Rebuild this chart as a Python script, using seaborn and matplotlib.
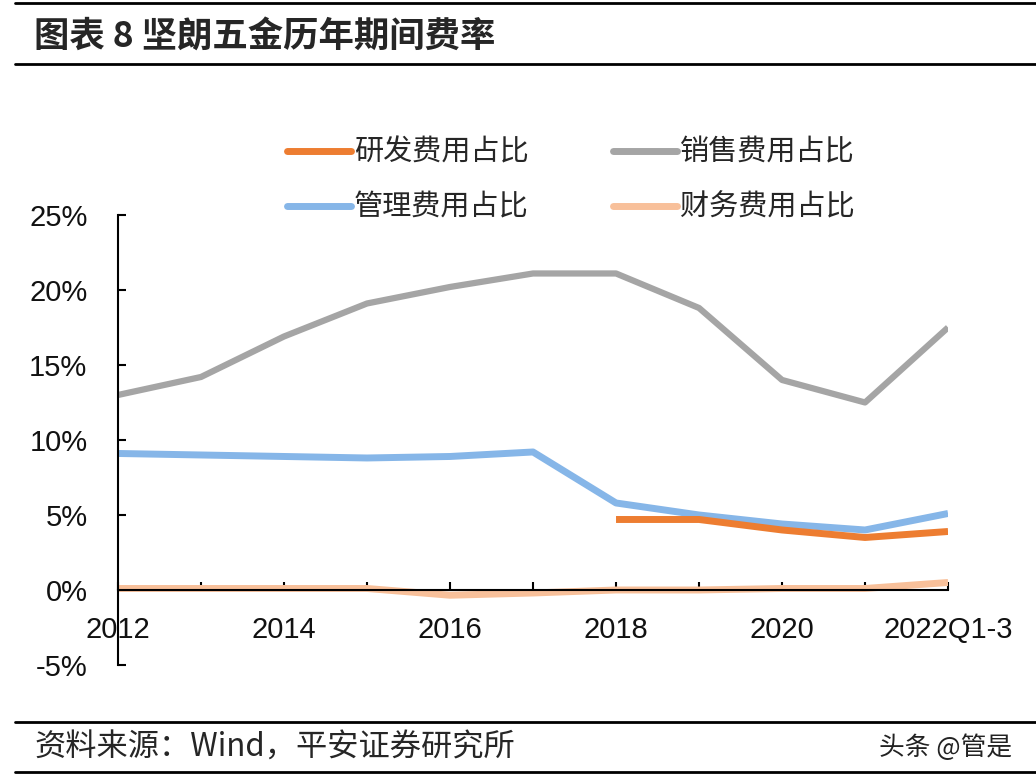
import matplotlib
matplotlib.use("Agg")
import matplotlib.pyplot as plt
import seaborn as sns
import numpy as np
import pandas as pd
from matplotlib.lines import Line2D

categories = ["2012", "2013", "2014", "2015", "2016", "2017", "2018", "2019", "2020", "2021", "2022Q1-3"]
rd_ratio = [np.nan, np.nan, np.nan, np.nan, np.nan, np.nan, 4.7, 4.7, 4.0, 3.5, 3.9]
sales_ratio = [13.0, 14.2, 16.9, 19.1, 20.2, 21.1, 21.1, 18.8, 14.0, 12.5, 17.5]
admin_ratio = [9.1, 9.0, 8.9, 8.8, 8.9, 9.2, 5.8, 5.0, 4.4, 4.0, 5.1]
finance_ratio = [0.1, 0.1, 0.1, 0.1, -0.35, -0.2, 0.0, 0.0, 0.1, 0.1, 0.5]
y_ticks = [-5, 0, 5, 10, 15, 20, 25]
series_names = ["研发费用占比", "销售费用占比", "管理费用占比", "财务费用占比"]
colors = ["#ED7D31", "#A5A5A5", "#86B6E8", "#F8C09A"]

sns.set_theme(style="white")
plt.rcParams['font.family'] = ['Liberation Sans', 'Noto Sans CJK SC', 'DejaVu Sans']

fig = plt.figure(figsize=(10.36, 7.84), dpi=100)
fig.patch.set_facecolor("white")
ax = fig.add_axes([0.1139, 0.1518, 0.8012, 0.5740])

x = np.arange(len(categories))
df = pd.DataFrame({"x": x, "研发费用占比": rd_ratio, "销售费用占比": sales_ratio,
                   "管理费用占比": admin_ratio, "财务费用占比": finance_ratio})
order = [3, 2, 0, 1]
widths = {0: 5, 1: 4.5, 2: 5, 3: 5}
for i in order:
    name = series_names[i]
    sns.lineplot(data=df, x="x", y=name, ax=ax, color=colors[i], linewidth=widths[i],
                 solid_capstyle="butt", legend=False)

ax.set_xlim(0, 10)
ax.set_ylim(-5, 25)
ax.set_xlabel("")
ax.set_ylabel("")
ax.set_yticks(y_ticks)
ax.set_yticklabels([f"{v}%" for v in y_ticks])
ax.set_xticks(x)
ax.set_xticklabels([c if i % 2 == 0 else "" for i, c in enumerate(categories)])
for s in ["top", "right"]:
    ax.spines[s].set_visible(False)
ax.spines["bottom"].set_position(("data", 0))
ax.spines["left"].set_color("black")
ax.spines["bottom"].set_color("black")
ax.spines["left"].set_linewidth(1.5)
ax.spines["bottom"].set_linewidth(1.5)
ax.tick_params(axis="y", left=True, direction="in", length=6, width=1.5, color="black",
               labelsize=21, pad=22, labelcolor="#111111")
ax.tick_params(axis="x", bottom=True, direction="in", length=6, width=1.5, color="black",
               labelsize=21, pad=19, labelcolor="#111111")
ax.set_facecolor("white")
ax.patch.set_alpha(0)

leg_order = [0, 2, 1, 3]
handles = [Line2D([0], [0], color=colors[i], linewidth=5) for i in leg_order]
labels = [series_names[i] for i in leg_order]
leg = fig.legend(handles, labels, loc="center", bbox_to_anchor=(0.551, 0.770),
                 ncol=2, frameon=False, handlelength=2.2,
                 handletextpad=0.1, columnspacing=2.9, labelspacing=0.86,
                 prop={'family': ['Noto Sans CJK SC'], 'size': 21})

fig.add_artist(Line2D([15/1036, 1.0], [1-3/784, 1-3/784], color="black", linewidth=2))
fig.add_artist(Line2D([15/1036, 1.0], [1-64/784, 1-64/784], color="black", linewidth=2))
fig.add_artist(Line2D([15/1036, 1.0], [1-722/784, 1-722/784], color="black", linewidth=2))
fig.add_artist(Line2D([15/1036, 1.0], [1-772/784, 1-772/784], color="black", linewidth=2))
fig.text(34/1036, 1-36/784, "图表 8 坚朗五金历年期间费率", fontsize=25.5, fontweight="bold",
         va="center", ha="left", family=['Noto Sans CJK SC', 'DejaVu Sans'])
fig.text(34/1036, 1-748/784, "资料来源：Wind，平安证券研究所", fontsize=22.5, style="italic",
         va="center", ha="left", family=['Noto Sans CJK SC', 'DejaVu Sans'])
fig.text(1012/1036, 1-748/784, "头条 @管是", fontsize=18.5, va="center", ha="right",
         family=['Noto Sans CJK SC', 'DejaVu Sans'], color="#222222")

fig.savefig("out.png", dpi=100, facecolor="white")
